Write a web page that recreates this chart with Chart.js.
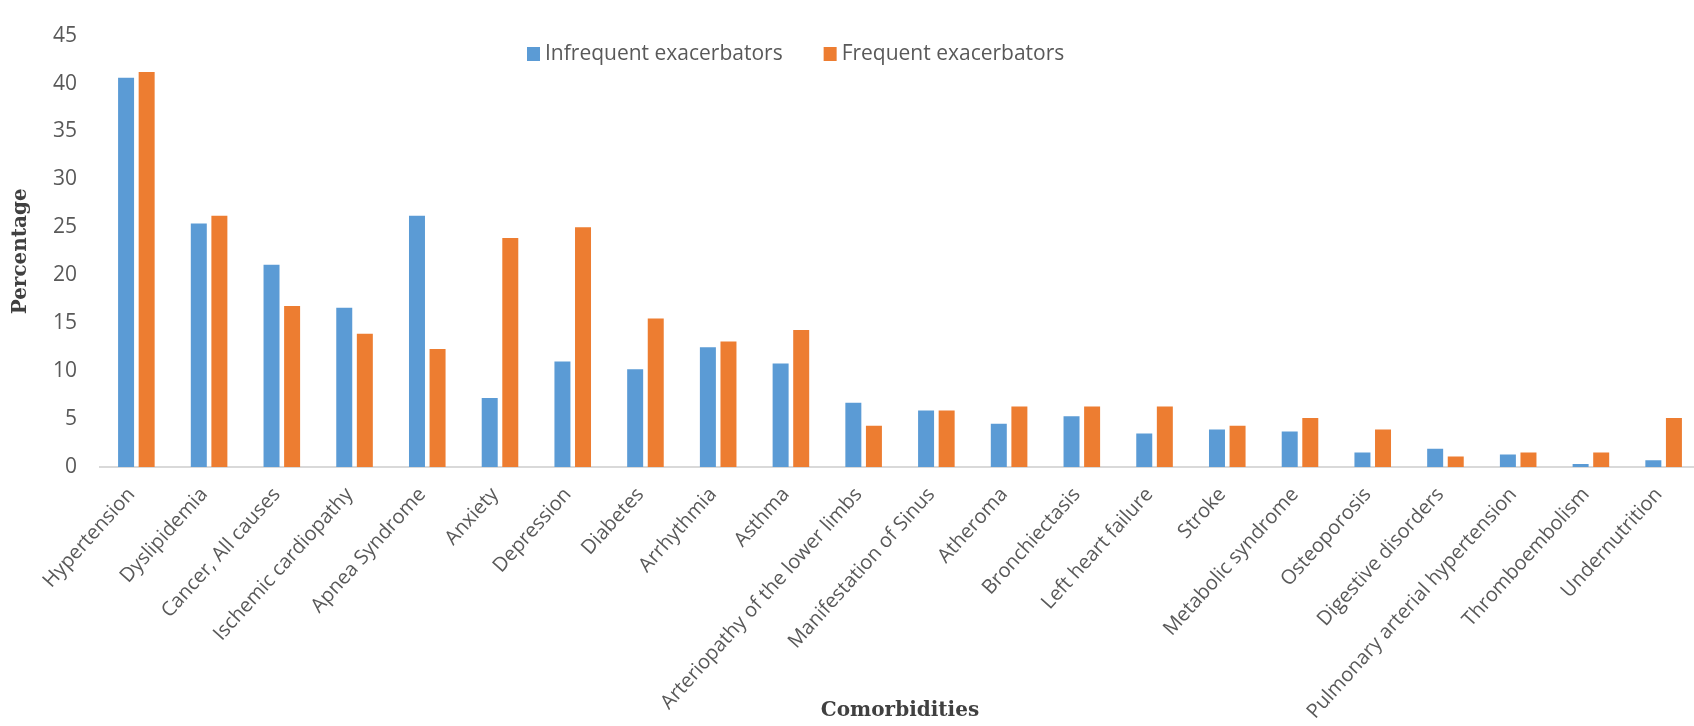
<!DOCTYPE html>
<html>
<head>
<meta charset="utf-8">
<script src="https://cdn.jsdelivr.net/npm/chart.js@4.4.1/dist/chart.umd.min.js"></script>
<style>
  html, body { margin: 0; padding: 0; background: #ffffff; overflow: hidden; }
  #wrap { position: absolute; left: 0; top: 0; width: 1702px; height: 726px; }
</style>
</head>
<body>
<div id="wrap"><canvas id="c"></canvas></div>
<script>
const categories = [
  "Hypertension", "Dyslipidemia", "Cancer, All causes", "Ischemic cardiopathy",
  "Apnea Syndrome", "Anxiety", "Depression", "Diabetes", "Arrhythmia", "Asthma",
  "Arteriopathy of the lower limbs", "Manifestation of Sinus", "Atheroma",
  "Bronchiectasis", "Left heart failure", "Stroke", "Metabolic syndrome",
  "Osteoporosis", "Digestive disorders", "Pulmonary arterial hypertension",
  "Thromboembolism", "Undernutrition"
];
const infrequentExacerbators = [40.6, 25.4, 21.1, 16.6, 26.2, 7.2, 11.0, 10.2, 12.5, 10.8, 6.7, 5.9, 4.5, 5.3, 3.5, 3.9, 3.7, 1.5, 1.9, 1.3, 0.3, 0.7];
const frequentExacerbators   = [41.2, 26.2, 16.8, 13.9, 12.3, 23.9, 25.0, 15.5, 13.1, 14.3, 4.3, 5.9, 6.3, 6.3, 6.3, 4.3, 5.1, 3.9, 1.1, 1.5, 1.5, 5.1];
const seriesLabels = ["Infrequent exacerbators", "Frequent exacerbators"];
const yTicks = [0, 5, 10, 15, 20, 25, 30, 35, 40, 45];

const customLegend = {
  id: 'customLegend',
  afterDraw(chart) {
    const ctx = chart.ctx;
    ctx.save();
    ctx.font = '21px "Open Sans"';
    ctx.textBaseline = 'middle';
    ctx.textAlign = 'left';
    const y = 54;
    let x = 527;
    chart.data.datasets.forEach((ds) => {
      ctx.fillStyle = ds.backgroundColor;
      ctx.fillRect(x, y - 7, 13, 14);
      ctx.fillStyle = '#595959';
      ctx.fillText(ds.label, x + 18, y);
      x += 18 + ctx.measureText(ds.label).width + 41;
    });
    ctx.restore();
  }
};

new Chart(document.getElementById('c'), {
  type: 'bar',
  data: {
    labels: categories,
    datasets: [
      { label: seriesLabels[0], data: infrequentExacerbators, backgroundColor: '#5B9BD5',
        categoryPercentage: 0.566, barPercentage: 0.777 },
      { label: seriesLabels[1], data: frequentExacerbators, backgroundColor: '#ED7D31',
        categoryPercentage: 0.566, barPercentage: 0.777 }
    ]
  },
  options: {
    responsive: true,
    maintainAspectRatio: false,
    animation: false,
    layout: { padding: { top: 25, right: 2, bottom: 0, left: 0 } },
    plugins: { legend: { display: false }, tooltip: { enabled: false } },
    scales: {
      x: {
        grid: { display: false, drawTicks: false },
        border: { display: true, color: '#d9d9d9', width: 2 },
        ticks: {
          autoSkip: false, maxRotation: 48, minRotation: 48, labelOffset: -5,
          color: '#595959', font: { family: 'Open Sans', size: 20 }, padding: 16
        },
        title: {
          display: true, text: 'Comorbidities', color: '#404040',
          font: { family: 'DejaVu Serif', weight: 'bold', size: 20 },
          padding: { top: 0, bottom: 3 }
        },
        afterFit(scale) { scale.height = 259; }
      },
      y: {
        min: 0, max: 45,
        afterBuildTicks(scale) { scale.ticks = yTicks.map(v => ({ value: v })); },
        ticks: { color: '#595959', font: { family: 'Open Sans', size: 21 }, padding: 23 },
        grid: { display: false, drawTicks: false },
        border: { display: false },
        title: {
          display: true, text: 'Percentage', color: '#404040',
          font: { family: 'DejaVu Serif', weight: 'bold', size: 20 },
          padding: { top: 9, bottom: 0 }
        },
        afterFit(scale) { scale.width = 100; }
      }
    }
  },
  plugins: [customLegend]
});
</script>
</body>
</html>
